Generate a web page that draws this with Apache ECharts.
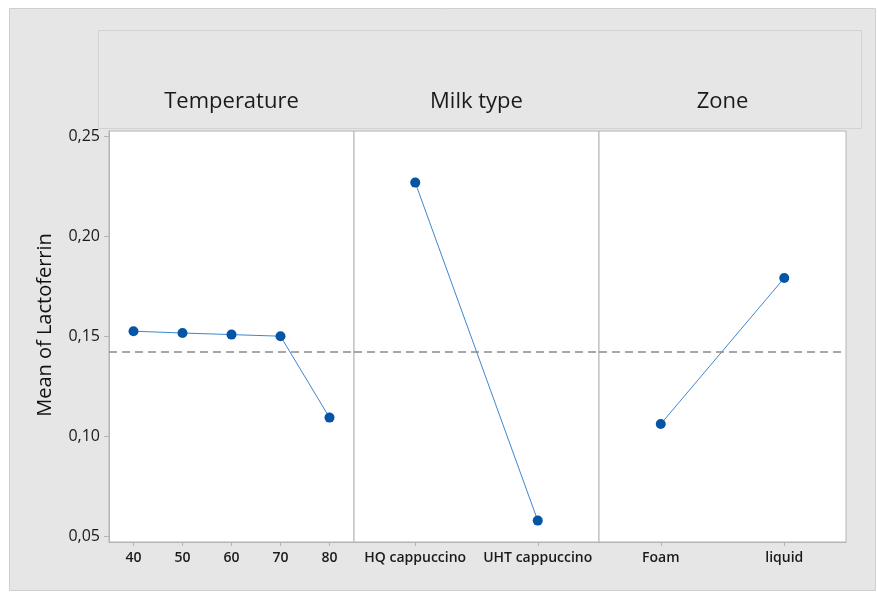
<!DOCTYPE html>
<html><head><meta charset="utf-8">
<script src="https://cdn.jsdelivr.net/npm/echarts@6/dist/echarts.min.js"></script>
<style>html,body{margin:0;padding:0;background:#fff}#c{width:877px;height:592px}</style>
</head><body><div id="c"></div>
<script>
const factors = ['Temperature', 'Milk type', 'Zone'];
const tempCats = ['40', '50', '60', '70', '80'];
const tempVals = [0.1524, 0.1515, 0.1507, 0.1499, 0.1092];
const milkCats = ['HQ cappuccino', 'UHT cappuccino'];
const milkVals = [0.2267, 0.0577];
const zoneCats = ['Foam', 'liquid'];
const zoneVals = [0.106, 0.179];
const grandMean = 0.1422;
const yTicks = [0.05, 0.10, 0.15, 0.20, 0.25];
const yTitle = 'Mean of Lactoferrin';

const panels = [
  {cats: tempCats, vals: tempVals, left: 109, width: 245},
  {cats: milkCats, vals: milkVals, left: 354, width: 245},
  {cats: zoneCats, vals: zoneVals, left: 599, width: 247}
];
const font = "'Open Sans', 'Noto Sans', sans-serif";
const axisGray = '#b4b4b4';

const option = {
  animation: false,
  backgroundColor: '#ffffff',
  graphic: [
    {type: 'rect', z: -10, shape: {x: 9.5, y: 8.5, width: 866, height: 582}, style: {fill: '#e6e6e6', stroke: '#cfcfcf', lineWidth: 1}},
    {type: 'rect', z: -9, shape: {x: 98.5, y: 30.5, width: 763, height: 98}, style: {fill: '#e6e6e6', stroke: '#d2d2d2', lineWidth: 1}},
    ...factors.map((f, i) => ({
      type: 'text', z: 10,
      x: panels[i].left + panels[i].width / 2, y: 102,
      style: {text: f, font: `22px ${font}`, fill: '#1a1a1a', textAlign: 'center', textVerticalAlign: 'middle'}
    })),
    {type: 'text', z: 10, x: 45, y: 325, rotation: Math.PI / 2,
     style: {text: yTitle, font: `20px ${font}`, fill: '#111', textAlign: 'center', textVerticalAlign: 'middle'}}
  ],
  grid: panels.map(p => ({
    left: p.left, width: p.width, top: 131, height: 411,
    show: true, backgroundColor: '#ffffff', borderColor: axisGray, borderWidth: 1
  })),
  xAxis: panels.map((p, i) => ({
    type: 'category', gridIndex: i, data: p.cats, boundaryGap: true,
    axisLine: {show: true, lineStyle: {color: axisGray}},
    axisTick: {show: true, alignWithLabel: true, length: 4, lineStyle: {color: axisGray}},
    axisLabel: {color: '#1a1a1a', fontSize: 14, fontWeight: 600, fontFamily: font, margin: 9, interval: 0},
    splitLine: {show: false}
  })),
  yAxis: panels.map((p, i) => ({
    type: 'value', gridIndex: i, min: 0.047, max: 0.2525,
    axisLine: {show: i === 0, lineStyle: {color: axisGray}},
    axisTick: {show: i === 0, length: 5, customValues: yTicks, lineStyle: {color: axisGray}},
    axisLabel: {show: i === 0, customValues: yTicks, color: '#1a1a1a', fontSize: 16, fontFamily: font, margin: 9,
      formatter: v => v.toFixed(2).replace('.', ',')},
    splitLine: {show: false}
  })),
  series: panels.map((p, i) => ({
    type: 'line', xAxisIndex: i, yAxisIndex: i, data: p.vals,
    symbol: 'circle', symbolSize: 10,
    itemStyle: {color: '#0455a6'},
    lineStyle: {color: '#3f86cf', width: 1},
    markLine: {
      silent: true, symbol: 'none', label: {show: false}, precision: 6,
      lineStyle: {color: '#8a8a8a', type: [8, 5], width: 1.5},
      data: [{yAxis: grandMean}]
    }
  }))
};
echarts.init(document.getElementById('c')).setOption(option);
</script></body></html>
